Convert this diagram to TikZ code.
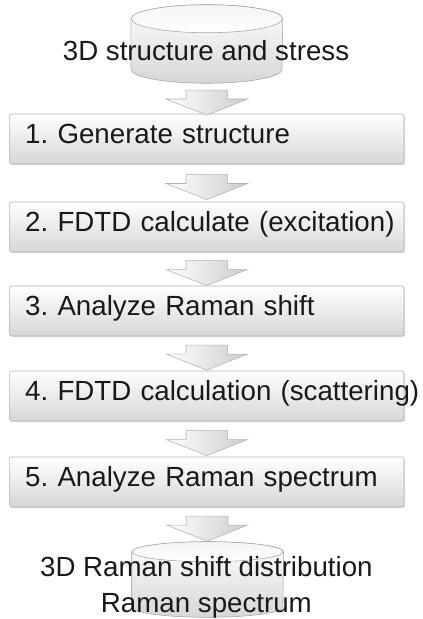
\documentclass[tikz,border=0pt]{standalone}
\usepackage{fontspec}
\setmainfont{Liberation Sans}
\frenchspacing
\usetikzlibrary{shapes.arrows, shadows, calc}

\begin{document}
\begin{tikzpicture}[
    stepbox/.style={draw=gray!60, rounded corners=1.5pt, top color=white, bottom color=gray!32,
        drop shadow={opacity=0.25, shadow xshift=0.6pt, shadow yshift=-0.8pt},
        minimum width=9.86cm, minimum height=1.25cm, text width=9.08cm, inner xsep=0.39cm,
        align=left, text height=0.72em, text depth=0.1em, font=\fontsize{19.7pt}{24pt}\selectfont, text=black!90},
    dbspot/.style={minimum width=3.78cm, inner sep=0pt},
    dbbody/.style={draw=gray!70, top color=white, bottom color=gray!32},
    dbtop/.style={draw=gray!70, top color=gray!8, bottom color=white},
    flowarrow/.style={single arrow, rotate=-90, draw=gray!60, left color=white, right color=gray!40,
        inner xsep=0pt, inner ysep=0.5125cm, minimum height=0.625cm, minimum width=2.025cm,
        single arrow head extend=0.5cm, single arrow tip angle=137, single arrow head indent=0pt},
    caption/.style={font=\fontsize{19.7pt}{25.5pt}\selectfont, text=black!90}
]
    \useasboundingbox (0,0) rectangle (10.575,-15.475);

    % Input data (cylinder)
    \node[dbspot, minimum height=1.95cm] (src) at (5.17,-1.1) {};
    \draw[dbbody] ($(src.north west)+(0,-0.35)$) -- ($(src.south west)+(0,0.35)$)
        arc[start angle=180, end angle=360, x radius=1.89cm, y radius=0.35cm]
        -- ($(src.north east)+(0,-0.35)$)
        arc[start angle=0, end angle=180, x radius=1.89cm, y radius=0.35cm] -- cycle;
    \draw[dbtop] ($(src.north)+(0,-0.35)$) ellipse[x radius=1.89cm, y radius=0.35cm];
    \node[caption, anchor=base] (srctext) at (5.15,-1.525) {3D structure and stress};

    % Processing steps
    \node[stepbox] (s1) at (5.17,-3.475) {1. Generate structure};
    \node[stepbox] (s2) at (5.17,-5.675) {\mbox{2. FDTD calculate (excitation)}};
    \node[stepbox] (s3) at (5.17,-7.775) {3. Analyze Raman shift};
    \node[stepbox] (s4) at (5.17,-9.9) {\mbox{4. FDTD calculation (scattering)}};
    \node[stepbox] (s5) at (5.17,-12.05) {5. Analyze Raman spectrum};

    % Output data (cylinder)
    \node[dbspot, minimum height=1.875cm] (res) at (5.19,-14.4875) {};
    \draw[dbbody] ($(res.north west)+(0,-0.25)$) -- ($(res.south west)+(0,0.25)$)
        arc[start angle=180, end angle=360, x radius=1.89cm, y radius=0.25cm]
        -- ($(res.north east)+(0,-0.25)$)
        arc[start angle=0, end angle=180, x radius=1.89cm, y radius=0.25cm] -- cycle;
    \draw[dbtop] ($(res.north)+(0,-0.25)$) ellipse[x radius=1.89cm, y radius=0.25cm];
    \node[caption, align=center] (restext) at (5.16,-14.675) {3D Raman shift distribution\\Raman spectrum};

    % Block arrows
    \node[flowarrow] (a0) at ($(src.south)!0.5!(s1.north)$) {};
    \node[flowarrow] (a1) at ($(s1.south)!0.5!(s2.north)$) {};
    \node[flowarrow] (a2) at ($(s2.south)!0.5!(s3.north)$) {};
    \node[flowarrow] (a3) at ($(s3.south)!0.5!(s4.north)$) {};
    \node[flowarrow] (a4) at ($(s4.south)!0.5!(s5.north)$) {};
    \node[flowarrow] (a5) at ($(s5.south)!0.5!(res.north)$) {};

\end{tikzpicture}
\end{document}
